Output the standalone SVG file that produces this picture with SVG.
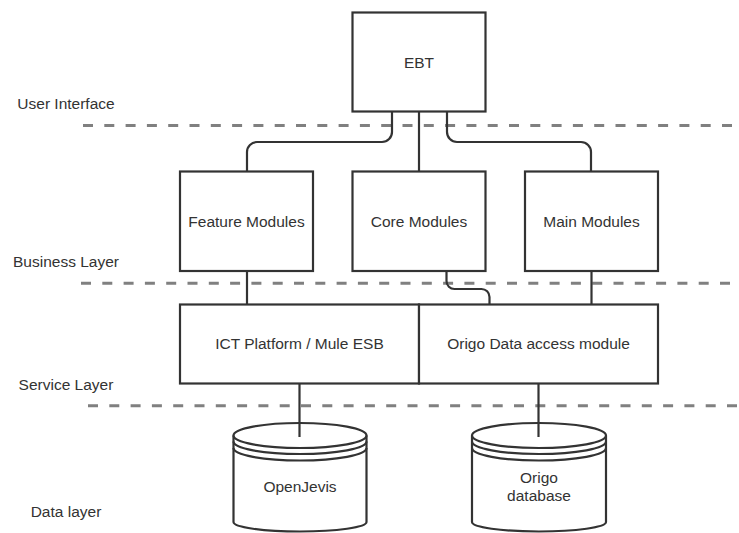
<svg xmlns="http://www.w3.org/2000/svg" width="739" height="533" viewBox="0 0 739 533">
<style>
.layer{stroke:#808080;stroke-width:3;stroke-dasharray:10 11.3;fill:none}
.box{fill:#ffffff;stroke:#333333;stroke-width:2.2}
.edge{fill:none;stroke:#333333;stroke-width:2.2}
text{font-family:"Liberation Sans",Arial,sans-serif;font-size:15.5px;fill:#333333;text-anchor:middle}
</style>
<rect width="739" height="533" fill="#ffffff"/>
<g id="layers">
<line class="layer" x1="83" y1="125.5" x2="739" y2="125.5"/>
<line class="layer" x1="81" y1="283.3" x2="739" y2="283.3"/>
<line class="layer" x1="88" y1="405.8" x2="739" y2="405.8"/>
<text x="66" y="108.5">User Interface</text>
<text x="66" y="267">Business Layer</text>
<text x="66" y="389.5">Service Layer</text>
<text x="66" y="517">Data layer</text>
</g>
<g id="ebt">
<rect class="box" x="352.5" y="12.5" width="133" height="99"/>
<text x="419" y="67.5">EBT</text>
</g>
<g id="feature-modules">
<rect class="box" x="180" y="171.5" width="133" height="99.5"/>
<text x="246.5" y="226.5">Feature Modules</text>
</g>
<g id="core-modules">
<rect class="box" x="352.5" y="171.5" width="133" height="99.5"/>
<text x="419" y="226.5">Core Modules</text>
</g>
<g id="main-modules">
<rect class="box" x="525" y="171.5" width="133" height="99.5"/>
<text x="591.5" y="226.5">Main Modules</text>
</g>
<g id="ict-platform">
<rect class="box" x="180" y="304.5" width="239" height="79"/>
<text x="299.5" y="349">ICT Platform / Mule ESB</text>
</g>
<g id="origo-data-access">
<rect class="box" x="419" y="304.5" width="239" height="79"/>
<text x="538.5" y="349">Origo Data access module</text>
</g>
<g id="openjevis">
<path class="box" d="M233.5 435.5 A66.5 12.5 0 0 1 366.5 435.5 V522 A66.5 9.5 0 0 1 233.5 522 Z"/>
<path class="edge" d="M233.5 435.5 A66.5 12.5 0 0 0 366.5 435.5 M233.5 441.5 A66.5 12.5 0 0 0 366.5 441.5 M233.5 448 A66.5 12.5 0 0 0 366.5 448"/>
<text x="300" y="492">OpenJevis</text>
</g>
<g id="origo-database">
<path class="box" d="M472 435.5 A67 12.5 0 0 1 606 435.5 V522 A67 9.5 0 0 1 472 522 Z"/>
<path class="edge" d="M472 435.5 A67 12.5 0 0 0 606 435.5 M472 441.5 A67 12.5 0 0 0 606 441.5 M472 448 A67 12.5 0 0 0 606 448"/>
<text x="539" y="483">Origo</text>
<text x="539" y="500.5">database</text>
</g>
<g id="connectors">
<path class="edge" d="M392 112 V132 A10 10 0 0 1 382 142 H257 A10 10 0 0 0 247 152 V171"/>
<path class="edge" d="M419 112 V171"/>
<path class="edge" d="M447 112 V132 A10 10 0 0 0 457 142 H581 A10 10 0 0 1 591 152 V171"/>
<path class="edge" d="M247 271 V304"/>
<path class="edge" d="M446.5 271 V281 A8 8 0 0 0 454.5 289 H481.5 A8 8 0 0 1 489.5 297 V304"/>
<path class="edge" d="M591.5 271 V304"/>
<path class="edge" d="M299.5 384 V437"/>
<path class="edge" d="M538.5 384 V437"/>
</g>
</svg>
